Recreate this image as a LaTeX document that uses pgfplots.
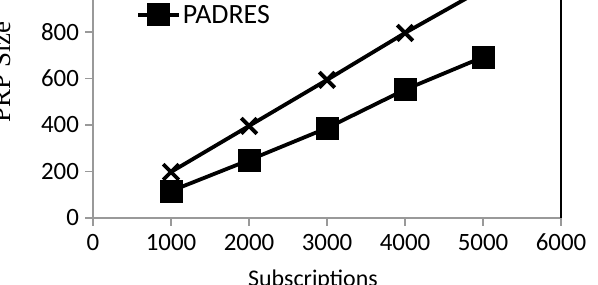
\documentclass[border=0pt]{standalone}
\usepackage{pgfplots}
\pgfplotsset{compat=1.18}
\usepackage{fontspec}
\setmainfont{Carlito}
\newfontfamily\timesfont{Liberation Serif}
\begin{document}
\begin{tikzpicture}
\useasboundingbox (-93bp,-67bp) rectangle (505bp,218bp);
\clip (-93bp,-67bp) rectangle (505bp,218bp);
\begin{axis}[
  at={(0,0)}, anchor=origin,
  scale only axis,
  x=0.078bp, y=0.2325bp,
  xmin=0, xmax=6000, ymin=0, ymax=1000,
  axis line style={draw=none},
  xtick={0,1000,2000,3000,4000,5000,6000},
  ytick={0,200,400,600,800,1000},
  xtick pos=bottom, ytick pos=left,
  tick align=outside,
  major tick length=7.5bp,
  tick style={gray!80, line width=1.2bp},
  /pgf/number format/assume math mode=true,
  /pgf/number format/1000 sep={},
  tick label style={font=\fontsize{25}{27}\selectfont},
  xticklabel style={yshift=-5bp},
  yticklabel style={xshift=-3bp},
  clip=false,
  legend style={draw=none, fill=none, at={(axis cs:550,1050)}, anchor=north west,
    font=\fontsize{28}{30}\selectfont, row sep=4bp, inner sep=0pt,
    /tikz/every even column/.append style={column sep=2bp}},
  legend cell align=left,
  legend image code/.code={\draw[#1] plot coordinates {(0bp,0bp) (20.5bp,0bp) (41bp,0bp)};},
  legend image post style={mark repeat=2, mark phase=2},
]
\draw[gray!80, line width=1.3bp] (axis cs:0,0) -- (axis cs:0,1000);
\draw[gray!80, line width=1.3bp] (axis cs:0,0) -- (axis cs:6000,0);
\draw[black, line width=1.5bp] (axis cs:6000,0) -- (axis cs:6000,1000);
\addplot[black, line width=3.8bp, mark=x, mark size=11bp, mark options={line width=3.8bp}]
  coordinates {(1000,198) (2000,396) (3000,594) (4000,796) (5000,985)};
\addlegendentry{Our approach}
\addplot[black, line width=3.8bp, mark=square*, mark size=11bp, mark options={line width=0pt}]
  coordinates {(1000,116) (2000,249) (3000,387) (4000,552) (5000,692)};
\addlegendentry{PADRES}
\end{axis}
\node[rotate=90, anchor=base, font=\timesfont\fontsize{27}{29}\selectfont] at (-82bp,146bp) {PRP Size};
\node[anchor=base, font=\fontsize{24}{26}\selectfont] at (220bp,-68bp) {Subscriptions};
\end{tikzpicture}
\end{document}
